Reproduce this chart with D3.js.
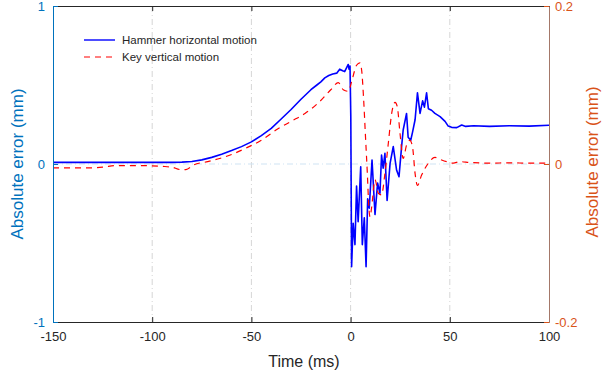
<!DOCTYPE html>
<html>
<head>
<meta charset="utf-8">
<script src="https://cdn.jsdelivr.net/npm/d3@7"></script>
<style>
  body { margin: 0; background: #fff; }
  text { font-family: Arial, "Liberation Sans", Helvetica, sans-serif; }
</style>
</head>
<body>
<svg id="chart" width="603" height="374"></svg>
<script>
// hammer horizontal motion (left axis, mm)
const hammerTime = [-150, -130, -110, -90, -85, -80, -75, -70, -65, -60, -55, -50, -45, -40, -35, -30, -25, -20, -17, -15, -13, -11, -9, -7, -5.5, -4, -3, -2, -1.2, -0.8, -0.3,
  0.1, 0.5, 1.3, 2.2, 3.0, 3.8, 5.1, 5.9, 6.9, 7.8, 8.6, 9.4, 10.8, 12.3, 13.6, 14.8, 15.6, 16.4, 17.3, 18.4, 19.9, 21.5, 23.2, 24.4, 25.7,
  26.5, 28.2, 29.0, 30.3, 31.2, 32.5, 33.7, 35.0, 36.3, 37.2, 38.3, 39.2, 40.8, 42.5, 45.1, 47.6, 49.2, 50.9, 53.5, 56, 58, 62, 70, 80, 90, 100];
const hammerValue = [0.01, 0.01, 0.01, 0.01, 0.012, 0.016, 0.026, 0.042, 0.062, 0.085, 0.11, 0.14, 0.18, 0.225, 0.285, 0.345, 0.41, 0.47, 0.5, 0.52, 0.545, 0.56, 0.57, 0.575, 0.6, 0.59, 0.585, 0.61, 0.63, 0.6, 0.62,
  0.3, -0.65, -0.375, -0.51, -0.14, -0.365, -0.017, -0.51, -0.34, -0.65, -0.22, -0.28, 0.025, -0.32, -0.12, -0.185, 0.057, -0.027, 0.068, -0.23, 0.004, 0.11, -0.04, -0.08, 0.11,
  0.215, 0.32, 0.17, 0.15, 0.2, 0.28, 0.45, 0.32, 0.40, 0.36, 0.45, 0.35, 0.34, 0.32, 0.30, 0.27, 0.24, 0.232, 0.23, 0.247, 0.238, 0.242, 0.238, 0.242, 0.24, 0.245];

// key vertical motion (right axis, mm)
const keyTime = [-150, -135, -125, -118, -105, -95, -90, -86, -83, -79, -72, -66, -60, -52, -45, -37, -30, -23, -16, -10, -6.2, -3.7, -1.2,
  0.5, 2, 3, 4.7, 5.6, 6.5, 7.5, 8.4, 9.2, 9.8, 10.6, 12.3, 14, 15.6, 17.3, 19, 20.7, 22.4, 23.5, 24.9, 26.5, 28.2, 29.9, 31.3, 32.5, 33.7, 35.8,
  39.2, 42.5, 45, 48.4, 51.8, 55, 60, 70, 80, 90, 100];
const keyValue = [-0.005, -0.005, -0.004, -0.002, -0.002, -0.003, -0.004, -0.007, -0.007, -0.001, 0.003, 0.007, 0.012, 0.021, 0.03, 0.044, 0.054, 0.064, 0.078, 0.094, 0.103, 0.094, 0.092,
  0.104, 0.118, 0.125, 0.128, 0.118, 0.085, 0.035, -0.01, -0.055, -0.067, -0.055, -0.02, -0.037, -0.039, -0.012, 0.026, 0.064, 0.078, 0.073, 0.039, 0.007, 0.024, 0.03, 0.02, -0.012, -0.027, -0.014,
  0.001, 0.0085, 0.006, 0.003, 0.001, 0.003, 0.002, 0.001, 0.0015, 0.001, 0.001];

const xTicks = [-150, -100, -50, 0, 50, 100];
const leftTicks = [-1, 0, 1];
const rightTicks = [-0.2, 0, 0.2];
const seriesNames = ['Hammer horizontal motion', 'Key vertical motion'];

const leftColor = '#0072BD';
const rightColor = '#D95319';

const margin = { left: 53, right: 54, top: 6, bottom: 52 };
const W = 603, H = 374;
const width = W - margin.left - margin.right;
const height = H - margin.top - margin.bottom;

// plain hyphen like the original instead of d3's unicode minus
const fmt = d => String(d);

const svg = d3.select('#chart');
const g = svg.append('g').attr('transform', `translate(${margin.left},${margin.top})`);

const x = d3.scaleLinear().domain([-150, 100]).range([0, width]);
const yL = d3.scaleLinear().domain([-1, 1]).range([height, 0]);
const yR = d3.scaleLinear().domain([-0.2, 0.2]).range([height, 0]);

// grid
g.selectAll('.vgrid')
  .data(xTicks.slice(1, -1))
  .enter().append('line')
  .attr('x1', d => x(d)).attr('x2', d => x(d))
  .attr('y1', 0).attr('y2', height)
  .style('stroke', '#d6d6d6')
  .style('stroke-width', 1)
  .style('stroke-dasharray', '6,3,1,3');

g.append('line')
  .attr('x1', 0).attr('x2', width)
  .attr('y1', yL(0)).attr('y2', yL(0))
  .style('stroke', '#cfe3f3')
  .style('stroke-width', 1)
  .style('stroke-dasharray', '6,3,1,3');

// series
const hammer = hammerTime.map((t, i) => ({ t: t, v: hammerValue[i] }));
const key = keyTime.map((t, i) => ({ t: t, v: keyValue[i] }));

g.append('path')
  .datum(hammer)
  .attr('d', d3.line().x(d => x(d.t)).y(d => yL(d.v)))
  .style('fill', 'none')
  .style('stroke', '#0000ff')
  .style('stroke-width', 1.6)
  .style('stroke-linejoin', 'round');

g.append('path')
  .datum(key)
  .attr('d', d3.line().curve(d3.curveMonotoneX).x(d => x(d.t)).y(d => yR(d.v)))
  .style('fill', 'none')
  .style('stroke', '#ff0000')
  .style('stroke-width', 1.2)
  .style('stroke-dasharray', '6,5');

// axes
const xAxisG = g.append('g')
  .attr('transform', `translate(0,${height})`)
  .call(d3.axisBottom(x).tickValues(xTicks).tickSizeInner(-5).tickSizeOuter(0).tickPadding(10).tickFormat(fmt));
xAxisG.select('.domain').attr('stroke', '#262626');
xAxisG.selectAll('.tick line').attr('stroke', '#262626');
xAxisG.selectAll('.tick text').attr('fill', '#262626').style('font-size', '13px');

const topAxisG = g.append('g')
  .call(d3.axisTop(x).tickValues(xTicks).tickSizeInner(-5).tickSizeOuter(0).tickFormat(''));
topAxisG.select('.domain').attr('stroke', '#262626');
topAxisG.selectAll('.tick line').attr('stroke', '#262626');

const leftAxisG = g.append('g')
  .call(d3.axisLeft(yL).tickValues(leftTicks).tickSizeInner(-5).tickSizeOuter(0).tickPadding(8).tickFormat(fmt));
leftAxisG.select('.domain').attr('stroke', leftColor);
leftAxisG.selectAll('.tick line').attr('stroke', leftColor);
leftAxisG.selectAll('.tick text').attr('fill', leftColor).style('font-size', '13px');

const rightAxisG = g.append('g')
  .attr('transform', `translate(${width},0)`)
  .call(d3.axisRight(yR).tickValues(rightTicks).tickSizeInner(-5).tickSizeOuter(0).tickPadding(6).tickFormat(fmt));
rightAxisG.select('.domain').attr('stroke', '#a47869');
rightAxisG.selectAll('.tick line').attr('stroke', rightColor);
rightAxisG.selectAll('.tick text').attr('fill', rightColor).style('font-size', '13px');

// axis labels
svg.append('text')
  .attr('x', margin.left + width / 2 + 3)
  .attr('y', 367)
  .attr('text-anchor', 'middle')
  .style('font-size', '16px')
  .style('fill', '#262626')
  .text('Time (ms)');

svg.append('text')
  .attr('transform', 'translate(18.5,164) rotate(-90)')
  .attr('dy', '0.25em')
  .attr('text-anchor', 'middle')
  .style('font-size', '17px')
  .style('fill', leftColor)
  .text('Absolute error (mm)');

svg.append('text')
  .attr('transform', 'translate(594,162) rotate(-90)')
  .attr('dy', '0.25em')
  .attr('text-anchor', 'middle')
  .style('font-size', '17px')
  .style('fill', rightColor)
  .text('Absolute error (mm)');

// legend
const legend = svg.append('g').attr('class', 'legend');
const legendRows = legend.selectAll('g')
  .data(seriesNames)
  .enter().append('g')
  .attr('transform', (d, i) => `translate(84,${40 + i * 17})`);
legendRows.append('line')
  .attr('x1', 0).attr('x2', 31)
  .style('stroke', (d, i) => i === 0 ? '#0000ff' : '#ff0000')
  .style('stroke-width', (d, i) => i === 0 ? 1.4 : 1.2)
  .style('stroke-dasharray', (d, i) => i === 0 ? null : '6,5');
legendRows.append('text')
  .attr('x', 38)
  .attr('dy', '0.35em')
  .style('font-size', '11.5px')
  .style('fill', '#262626')
  .text(d => d);
</script>
</body>
</html>
